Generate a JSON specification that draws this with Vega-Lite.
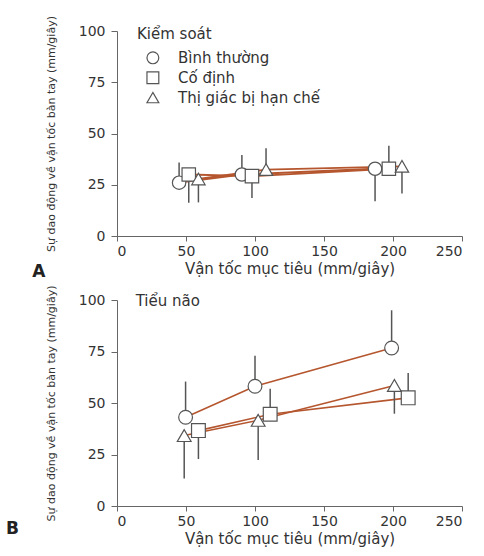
{
  "$schema": "https://vega.github.io/schema/vega-lite/v6.json",
  "padding": {"left": 5, "top": 15, "right": 5, "bottom": 5},
  "spacing": 5,
  "config": {
    "view": {"stroke": null},
    "font": "DejaVu Sans",
    "axis": {
      "grid": false,
      "domainColor": "#666",
      "tickColor": "#666",
      "labelColor": "#333",
      "titleColor": "#333",
      "labelFontSize": 14,
      "titleFontWeight": "normal",
      "labelFont": "DejaVu Sans",
      "titleFont": "DejaVu Sans"
    },
    "axisX": {"tickSize": 5, "labelPadding": 3, "titleFontSize": 15, "titlePadding": 3},
    "axisY": {"tickSize": 6, "labelPadding": 6, "titleFontSize": 11, "titlePadding": 22}
  },
  "datasets": {
    "pts": [
      {"panel": "A", "series": "Bình thường", "x": 45, "y": 26, "e": 35.8},
      {"panel": "A", "series": "Bình thường", "x": 90.5, "y": 30, "e": 39.5},
      {"panel": "A", "series": "Bình thường", "x": 187, "y": 32.8, "e": 17},
      {"panel": "A", "series": "Cố định", "x": 52, "y": 30, "e": 16.2},
      {"panel": "A", "series": "Cố định", "x": 97.8, "y": 29.2, "e": 18.5},
      {"panel": "A", "series": "Cố định", "x": 197, "y": 32.8, "e": 44},
      {"panel": "A", "series": "Thị giác bị hạn chế", "x": 59, "y": 27.8, "e": 16.4},
      {"panel": "A", "series": "Thị giác bị hạn chế", "x": 108, "y": 32.4, "e": 42.8},
      {"panel": "A", "series": "Thị giác bị hạn chế", "x": 206.5, "y": 34, "e": 20.7},
      {"panel": "B", "series": "Bình thường", "x": 49.7, "y": 43.1, "e": 60.4},
      {"panel": "B", "series": "Bình thường", "x": 100, "y": 58.1, "e": 72.9},
      {"panel": "B", "series": "Bình thường", "x": 199, "y": 76.7, "e": 95},
      {"panel": "B", "series": "Cố định", "x": 59, "y": 36.6, "e": 22.8},
      {"panel": "B", "series": "Cố định", "x": 111, "y": 44.5, "e": 56.9},
      {"panel": "B", "series": "Cố định", "x": 211, "y": 52.5, "e": 64.6},
      {"panel": "B", "series": "Thị giác bị hạn chế", "x": 48.7, "y": 34.2, "e": 13.4},
      {"panel": "B", "series": "Thị giác bị hạn chế", "x": 102.3, "y": 41.6, "e": 22.3},
      {"panel": "B", "series": "Thị giác bị hạn chế", "x": 201, "y": 58.5, "e": 44.8}
    ],
    "key": [
      {"series": "Bình thường", "x": 26, "y": 86.9, "lx": 44.2},
      {"series": "Cố định", "x": 26, "y": 77.2, "lx": 44.2},
      {"series": "Thị giác bị hạn chế", "x": 26, "y": 67.5, "lx": 44.2}
    ],
    "notes": [
      {"panel": "A", "kind": "title", "x": 14.5, "y": 98.5, "text": "Kiểm soát"},
      {"panel": "A", "kind": "letter", "x": -61.5, "y": -17.5, "text": "A"},
      {"panel": "B", "kind": "title", "x": 13.5, "y": 99.5, "text": "Tiểu não"},
      {"panel": "B", "kind": "letter", "x": -80.5, "y": -11.2, "text": "B"}
    ]
  },
  "vconcat": [
    {
      "width": 345,
      "height": 205,
      "layer": [
        {
          "data": {"name": "pts"},
          "transform": [{"filter": "datum.panel == 'A'"}],
          "mark": {"type": "line", "color": "#b5562e", "strokeWidth": 1.8},
          "encoding": {
            "x": {"field": "x", "type": "quantitative", "scale": {"domain": [0, 250], "nice": false}, "axis": {"title": "Vận tốc mục tiêu (mm/giây)", "values": [0, 50, 100, 150, 200, 250]}},
            "y": {"field": "y", "type": "quantitative", "scale": {"domain": [0, 100], "nice": false}, "axis": {"title": "Sự dao động về vận tốc bàn tay (mm/giây)", "values": [0, 25, 50, 75, 100]}},
            "detail": {"field": "series"},
            "order": {"field": "x", "type": "quantitative"}
          }
        },
        {
          "data": {"name": "pts"},
          "transform": [{"filter": "datum.panel == 'A'"}],
          "mark": {"type": "rule", "color": "#555", "strokeWidth": 1.5},
          "encoding": {
            "x": {"field": "x", "type": "quantitative", "scale": {"domain": [0, 250], "nice": false}},
            "y": {"field": "y", "type": "quantitative", "scale": {"domain": [0, 100], "nice": false}},
            "y2": {"field": "e"}
          }
        },
        {
          "data": {"name": "pts"},
          "transform": [{"filter": "datum.panel == 'A'"}],
          "mark": {"type": "point", "filled": true, "color": "white", "stroke": "#555", "strokeWidth": 1.2, "size": 180, "opacity": 1},
          "encoding": {
            "x": {"field": "x", "type": "quantitative", "scale": {"domain": [0, 250], "nice": false}},
            "y": {"field": "y", "type": "quantitative", "scale": {"domain": [0, 100], "nice": false}},
            "shape": {
              "field": "series",
              "type": "nominal",
              "scale": {"domain": ["Bình thường", "Cố định", "Thị giác bị hạn chế"], "range": ["circle", "square", "triangle-up"]},
              "legend": null
            }
          }
        },
        {
          "data": {"name": "key"},
          "mark": {"type": "point", "filled": true, "color": "white", "stroke": "#555", "strokeWidth": 1.2, "size": 140, "opacity": 1},
          "encoding": {
            "x": {"field": "x", "type": "quantitative", "scale": {"domain": [0, 250], "nice": false}},
            "y": {"field": "y", "type": "quantitative", "scale": {"domain": [0, 100], "nice": false}},
            "shape": {
              "field": "series",
              "type": "nominal",
              "scale": {"domain": ["Bình thường", "Cố định", "Thị giác bị hạn chế"], "range": ["circle", "square", "triangle-up"]},
              "legend": null
            }
          }
        },
        {
          "data": {"name": "key"},
          "mark": {"type": "text", "align": "left", "baseline": "middle", "fontSize": 15, "color": "#333", "font": "DejaVu Sans"},
          "encoding": {
            "x": {"field": "lx", "type": "quantitative", "scale": {"domain": [0, 250], "nice": false}},
            "y": {"field": "y", "type": "quantitative", "scale": {"domain": [0, 100], "nice": false}},
            "text": {"field": "series"}
          }
        },
        {
          "data": {"name": "notes"},
          "transform": [{"filter": "datum.panel == 'A' && datum.kind == 'title'"}],
          "mark": {"type": "text", "align": "left", "baseline": "middle", "fontSize": 15, "color": "#333", "font": "DejaVu Sans"},
          "encoding": {
            "x": {"field": "x", "type": "quantitative", "scale": {"domain": [0, 250], "nice": false}},
            "y": {"field": "y", "type": "quantitative", "scale": {"domain": [0, 100], "nice": false}},
            "text": {"field": "text"}
          }
        },
        {
          "data": {"name": "notes"},
          "transform": [{"filter": "datum.panel == 'A' && datum.kind == 'letter'"}],
          "mark": {"type": "text", "align": "left", "baseline": "middle", "fontSize": 17, "fontWeight": "bold", "color": "#222", "font": "DejaVu Sans"},
          "encoding": {
            "x": {"field": "x", "type": "quantitative", "scale": {"domain": [0, 250], "nice": false}},
            "y": {"field": "y", "type": "quantitative", "scale": {"domain": [0, 100], "nice": false}},
            "text": {"field": "text"}
          }
        }
      ]
    },
    {
      "width": 345,
      "height": 206,
      "layer": [
        {
          "data": {"name": "pts"},
          "transform": [{"filter": "datum.panel == 'B'"}],
          "mark": {"type": "line", "color": "#b5562e", "strokeWidth": 1.6},
          "encoding": {
            "x": {"field": "x", "type": "quantitative", "scale": {"domain": [0, 250], "nice": false}, "axis": {"title": "Vận tốc mục tiêu (mm/giây)", "values": [0, 50, 100, 150, 200, 250]}},
            "y": {"field": "y", "type": "quantitative", "scale": {"domain": [0, 100], "nice": false}, "axis": {"title": "Sự dao động về vận tốc bàn tay (mm/giây)", "values": [0, 25, 50, 75, 100]}},
            "detail": {"field": "series"},
            "order": {"field": "x", "type": "quantitative"}
          }
        },
        {
          "data": {"name": "pts"},
          "transform": [{"filter": "datum.panel == 'B'"}],
          "mark": {"type": "rule", "color": "#555", "strokeWidth": 1.5},
          "encoding": {
            "x": {"field": "x", "type": "quantitative", "scale": {"domain": [0, 250], "nice": false}},
            "y": {"field": "y", "type": "quantitative", "scale": {"domain": [0, 100], "nice": false}},
            "y2": {"field": "e"}
          }
        },
        {
          "data": {"name": "pts"},
          "transform": [{"filter": "datum.panel == 'B'"}],
          "mark": {"type": "point", "filled": true, "color": "white", "stroke": "#555", "strokeWidth": 1.2, "size": 190, "opacity": 1},
          "encoding": {
            "x": {"field": "x", "type": "quantitative", "scale": {"domain": [0, 250], "nice": false}},
            "y": {"field": "y", "type": "quantitative", "scale": {"domain": [0, 100], "nice": false}},
            "shape": {
              "field": "series",
              "type": "nominal",
              "scale": {"domain": ["Bình thường", "Cố định", "Thị giác bị hạn chế"], "range": ["circle", "square", "triangle-up"]},
              "legend": null
            }
          }
        },
        {
          "data": {"name": "notes"},
          "transform": [{"filter": "datum.panel == 'B' && datum.kind == 'title'"}],
          "mark": {"type": "text", "align": "left", "baseline": "middle", "fontSize": 15, "color": "#333", "font": "DejaVu Sans"},
          "encoding": {
            "x": {"field": "x", "type": "quantitative", "scale": {"domain": [0, 250], "nice": false}},
            "y": {"field": "y", "type": "quantitative", "scale": {"domain": [0, 100], "nice": false}},
            "text": {"field": "text"}
          }
        },
        {
          "data": {"name": "notes"},
          "transform": [{"filter": "datum.panel == 'B' && datum.kind == 'letter'"}],
          "mark": {"type": "text", "align": "left", "baseline": "middle", "fontSize": 17, "fontWeight": "bold", "color": "#222", "font": "DejaVu Sans"},
          "encoding": {
            "x": {"field": "x", "type": "quantitative", "scale": {"domain": [0, 250], "nice": false}},
            "y": {"field": "y", "type": "quantitative", "scale": {"domain": [0, 100], "nice": false}},
            "text": {"field": "text"}
          }
        }
      ]
    }
  ]
}
